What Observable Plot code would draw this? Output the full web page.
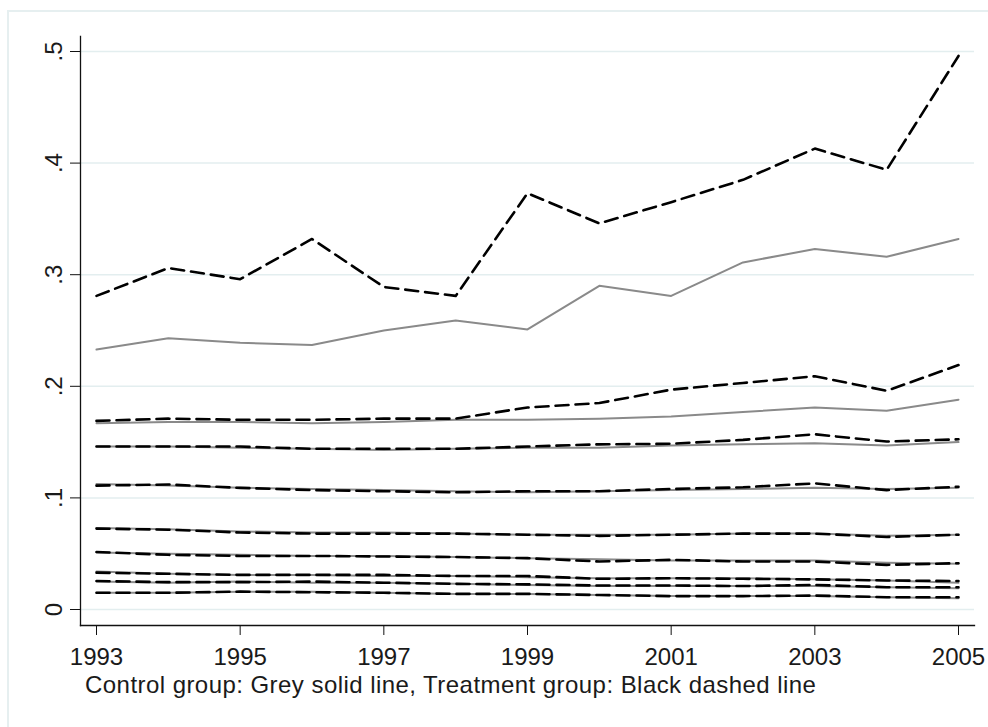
<!DOCTYPE html>
<html>
<head>
<meta charset="utf-8">
<script src="https://cdn.jsdelivr.net/npm/d3@7"></script>
<script src="https://cdn.jsdelivr.net/npm/@observablehq/plot@0.6"></script>
<style>
  html, body { margin: 0; padding: 0; background: #fff; }
  body { width: 988px; height: 727px; overflow: hidden; position: relative; font-family: "Liberation Sans", Arial, sans-serif; }
  #frame { position: absolute; left: 7px; top: 10px; width: 1000px; height: 730px; border: 2px solid #e6eff0; box-sizing: border-box; pointer-events: none; z-index: 2; }
  #chart { position: absolute; left: 0; top: 0; }
  #caption { position: absolute; left: 85px; top: 672px; font-size: 24px; letter-spacing: 0.45px; line-height: 26px; color: #1a1a1a; white-space: nowrap; }
</style>
</head>
<body>
<div id="frame"></div>
<div id="chart"></div>
<div id="caption">Control group: Grey solid line, Treatment group: Black dashed line</div>
<script>
const years = [1993, 1994, 1995, 1996, 1997, 1998, 1999, 2000, 2001, 2002, 2003, 2004, 2005];
const xTicks = [1993, 1995, 1997, 1999, 2001, 2003, 2005];
const yTicks = [0, 0.1, 0.2, 0.3, 0.4, 0.5];
const yTickLabels = ["0", ".1", ".2", ".3", ".4", ".5"];

// Treatment group (black dashed)
const t1 = [0.281, 0.306, 0.296, 0.332, 0.289, 0.281, 0.373, 0.346, 0.365, 0.385, 0.413, 0.394, 0.496];
const t2 = [0.169, 0.171, 0.170, 0.170, 0.171, 0.171, 0.181, 0.185, 0.197, 0.203, 0.209, 0.196, 0.219];
const t3 = [0.146, 0.146, 0.146, 0.144, 0.144, 0.144, 0.146, 0.148, 0.1485, 0.152, 0.157, 0.1505, 0.1525];
const t4 = [0.111, 0.112, 0.109, 0.107, 0.106, 0.105, 0.106, 0.106, 0.108, 0.1095, 0.113, 0.107, 0.110];
const t5 = [0.0725, 0.0715, 0.069, 0.068, 0.068, 0.068, 0.067, 0.066, 0.067, 0.068, 0.068, 0.065, 0.067];
const t6 = [0.0515, 0.049, 0.048, 0.048, 0.0475, 0.047, 0.046, 0.043, 0.0445, 0.043, 0.043, 0.040, 0.0415];
const t7 = [0.033, 0.032, 0.031, 0.031, 0.031, 0.030, 0.030, 0.0275, 0.028, 0.0275, 0.027, 0.026, 0.0255];
const t8 = [0.0255, 0.0245, 0.0245, 0.025, 0.024, 0.023, 0.0225, 0.0215, 0.0215, 0.021, 0.022, 0.020, 0.020];
const t9 = [0.015, 0.015, 0.016, 0.0155, 0.015, 0.014, 0.014, 0.013, 0.012, 0.012, 0.0125, 0.011, 0.011];

// Control group (grey solid)
const c1 = [0.233, 0.243, 0.239, 0.237, 0.250, 0.259, 0.251, 0.290, 0.281, 0.311, 0.323, 0.316, 0.332];
const c2 = [0.167, 0.168, 0.168, 0.167, 0.168, 0.170, 0.170, 0.171, 0.173, 0.177, 0.181, 0.178, 0.188];
const c3 = [0.146, 0.146, 0.145, 0.144, 0.143, 0.144, 0.145, 0.145, 0.147, 0.148, 0.149, 0.147, 0.150];
const c4 = [0.1125, 0.111, 0.109, 0.108, 0.107, 0.106, 0.105, 0.106, 0.107, 0.108, 0.109, 0.108, 0.109];
const c5 = [0.073, 0.072, 0.070, 0.069, 0.069, 0.068, 0.067, 0.067, 0.067, 0.068, 0.068, 0.066, 0.067];
const c6 = [0.051, 0.050, 0.049, 0.048, 0.048, 0.047, 0.046, 0.045, 0.044, 0.044, 0.044, 0.042, 0.041];
const c7 = [0.034, 0.032, 0.031, 0.031, 0.030, 0.030, 0.029, 0.028, 0.028, 0.028, 0.027, 0.026, 0.024];
const c8 = [0.025, 0.024, 0.025, 0.024, 0.024, 0.023, 0.022, 0.021, 0.021, 0.021, 0.021, 0.020, 0.019];
const c9 = [0.015, 0.015, 0.016, 0.016, 0.015, 0.014, 0.014, 0.013, 0.012, 0.012, 0.012, 0.011, 0.010];

const treatment = [t1, t2, t3, t4, t5, t6, t7, t8, t9];
const control = [c1, c2, c3, c4, c5, c6, c7, c8, c9];

function toLong(list, group) {
  const out = [];
  list.forEach((s, k) => s.forEach((v, i) => out.push({series: group + (k + 1), year: years[i], value: v})));
  return out;
}
const treatData = toLong(treatment, "t");
const ctrlData = toLong(control, "c");

const W = 988, H = 672;
const chart = Plot.plot({
  width: W,
  height: H,
  marginLeft: 80,
  marginRight: 14,
  marginTop: 36,
  marginBottom: 47,
  style: {fontFamily: "'Liberation Sans', Arial, sans-serif", fontSize: "24px", background: "transparent", color: "#1a1a1a"},
  x: {domain: [1993, 2005], range: [96, 958], label: null},
  y: {domain: [0, 0.5], range: [609, 51], label: null},
  marks: [
    Plot.ruleY(yTicks, {stroke: "#e3eeef", strokeWidth: 1.5}),
    Plot.frame({anchor: "left", stroke: "#111", strokeWidth: 1.3}),
    Plot.frame({anchor: "bottom", stroke: "#111", strokeWidth: 1.3}),
    Plot.axisX({ticks: xTicks, label: null, tickSize: 10, tickPadding: 12, tickFormat: d => String(d), fontSize: 24, stroke: "#111", fill: "#1a1a1a"}),
    Plot.axisY({ticks: yTicks, label: null, tickSize: 10, tickFormat: () => "", stroke: "#111"}),
    Plot.text(yTicks, {y: d => d, text: (d, i) => yTickLabels[i], frameAnchor: "left", dx: -26, rotate: -90, textAnchor: "middle", lineAnchor: "middle", fontSize: 24, fill: "#1a1a1a"}),
    Plot.line(ctrlData, {x: "year", y: "value", z: "series", stroke: "#8a8a8a", strokeWidth: 2}),
    Plot.line(treatData, {x: "year", y: "value", z: "series", stroke: "#000", strokeWidth: 2.6, strokeDasharray: "13,7"})
  ]
});
document.getElementById("chart").appendChild(chart);
</script>
</body>
</html>
